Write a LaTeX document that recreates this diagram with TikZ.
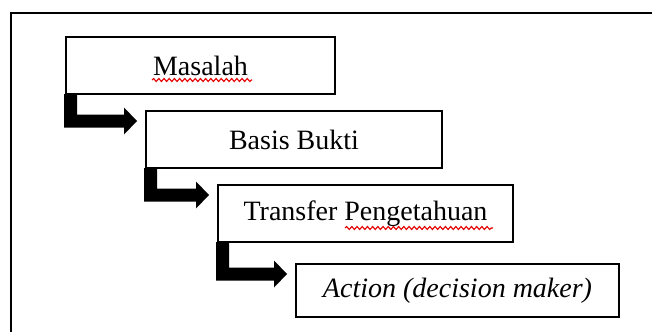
\documentclass[tikz,border=0pt]{standalone}
\usepackage{fontspec}
\setmainfont{Liberation Serif}
\usetikzlibrary{calc,decorations.pathmorphing}
\tikzset{
  stepbox/.style={draw=black, line width=1pt, rectangle, inner sep=0pt,
    minimum height=28.5pt, font=\fontsize{14}{16}\selectfont},
  frameline/.style={draw=black, line width=1pt},
  spell/.style={draw=red!90!black, line width=0.55pt,
    decorate, decoration={snake, amplitude=0.75pt, segment length=2.6pt}},
}
\newcommand\stairarrow[2]{%
  \fill[black] let \p1=(#1.south west), \p2=(#2.north west),
      \n1={\x2-4pt}, \n2={\y2-5.5pt} in
    (\x1-0.5pt,\y1+0.5pt) -- (\x1+6pt,\y1+0.5pt) -- (\x1+6pt,\n2+3.25pt)
    -- (\n1-6.5pt,\n2+3.25pt) -- (\n1-6.5pt,\n2+6.75pt) -- (\n1,\n2)
    -- (\n1-6.5pt,\n2-6.75pt) -- (\n1-6.5pt,\n2-3.25pt)
    -- (\x1-0.5pt,\n2-3.25pt) -- cycle;}
\begin{document}
\begin{tikzpicture}[x=0.5pt,y=-0.5pt]
  \useasboundingbox (0,0) rectangle (652,332);
  \draw[frameline] (11,332) -- (11,13) -- (652,13);
  \node[stepbox, minimum width=134.5pt] (m) at (200.5,65.5) {Masalah};
  \node[stepbox, minimum width=148pt] (b) at (294,139.5) {Basis Bukti};
  \node[stepbox, minimum width=147.5pt] (t) at (365.5,213.5) {Transfer Pengetahuan};
  \node[stepbox, minimum width=161.5pt, minimum height=26.5pt] (a) at (457.5,290.5)
    {\itshape Action (decision maker)};
  \stairarrow{m}{b}
  \stairarrow{b}{t}
  \stairarrow{t}{a}
  \coordinate (u1) at (152,80);
  \coordinate (u2) at (252,80);
  \coordinate (u3) at (345,228);
  \coordinate (u4) at (493,228);
  \draw[spell] (u1) -- (u2);
  \draw[spell] (u3) -- (u4);
\end{tikzpicture}
\end{document}
